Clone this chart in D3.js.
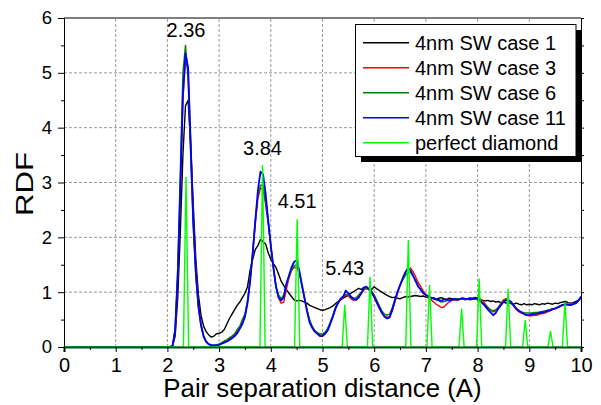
<!DOCTYPE html>
<html><head><meta charset="utf-8">
<script src="https://cdn.jsdelivr.net/npm/d3@7"></script>
<style>
html,body{margin:0;padding:0;background:#fff;}
svg{display:block;font-family:"Liberation Sans",Arial,sans-serif;}
</style></head>
<body><svg id="c" width="601" height="405"></svg>
<script>
// ---- data ----
const rStart = 2.0, rStep = 0.05; // bin positions 2.00 .. 10.00
const case1 = [
0,0,0.02,0.2,0.9,2.1,3.5,4.4,4.5,3.7,2.6,1.6,0.95,0.58,0.38,0.28,0.22,0.18,0.2,0.24,
0.25,0.27,0.32,0.42,0.52,0.6,0.68,0.76,0.82,0.9,0.98,1.1,1.4,1.6,1.78,1.85,1.96,1.92,1.88,1.72,
1.6,1.52,1.45,1.33,1.2,1.12,1.05,0.98,0.92,0.86,0.84,0.85,0.84,0.82,0.8,0.76,0.74,0.72,0.7,0.68,
0.67,0.68,0.7,0.72,0.75,0.79,0.83,0.86,0.89,0.92,0.95,0.98,1.01,1.04,1.07,1.05,1.09,1.06,1.07,1.05,
1.1,1.06,1.03,1.0,0.97,0.94,0.92,0.9,0.91,0.89,0.88,0.9,0.92,0.91,0.92,0.93,0.94,0.93,0.92,0.93,
0.91,0.9,0.88,0.9,0.87,0.89,0.9,0.88,0.87,0.89,0.88,0.86,0.88,0.87,0.89,0.87,0.88,0.86,0.87,0.88,
0.86,0.87,0.85,0.84,0.85,0.83,0.84,0.82,0.83,0.81,0.82,0.8,0.81,0.79,0.78,0.8,0.78,0.77,0.79,0.77,
0.78,0.77,0.79,0.78,0.77,0.79,0.78,0.8,0.79,0.78,0.8,0.79,0.81,0.82,0.83,0.81,0.8,0.81,0.83,0.85,
0.89];
const case3 = [
0,0,0.02,0.28,1.25,2.8,4.5,5.25,5.05,3.75,2.35,1.4,0.78,0.42,0.21,0.1,0.05,0.03,0.03,0.03,
0.05,0.07,0.1,0.12,0.15,0.18,0.22,0.28,0.35,0.45,0.57,0.82,1.2,1.7,2.25,2.7,2.9,2.88,2.6,2.25,
1.85,1.45,1.1,0.9,0.8,0.82,1.05,1.25,1.4,1.45,1.45,1.35,1.12,0.9,0.68,0.48,0.37,0.3,0.25,0.22,
0.22,0.25,0.32,0.44,0.56,0.7,0.8,0.86,0.9,0.95,0.93,0.88,0.85,0.86,0.92,0.98,1.04,1.08,1.04,0.98,
0.9,0.8,0.7,0.62,0.57,0.54,0.56,0.66,0.82,0.98,1.12,1.24,1.35,1.42,1.44,1.38,1.28,1.18,1.1,1.02,
0.95,0.9,0.86,0.82,0.78,0.75,0.72,0.73,0.78,0.82,0.85,0.86,0.85,0.87,0.88,0.86,0.87,0.88,0.89,0.9,
0.9,0.88,0.84,0.78,0.72,0.67,0.64,0.66,0.72,0.8,0.86,0.88,0.86,0.8,0.74,0.68,0.64,0.62,0.6,0.58,
0.57,0.57,0.58,0.58,0.6,0.61,0.62,0.64,0.66,0.68,0.7,0.72,0.74,0.76,0.77,0.78,0.77,0.78,0.8,0.84,
0.9];
const case6 = [
0,0,0.03,0.35,1.45,3.2,5.0,5.5,4.9,3.5,2.2,1.3,0.7,0.38,0.18,0.09,0.05,0.04,0.03,0.04,
0.05,0.08,0.11,0.13,0.17,0.2,0.24,0.32,0.38,0.5,0.6,0.85,1.25,1.75,2.3,2.75,2.95,2.95,2.65,2.3,
1.85,1.45,1.12,0.95,0.88,0.95,1.15,1.28,1.4,1.48,1.5,1.38,1.12,0.9,0.68,0.5,0.38,0.3,0.26,0.24,
0.24,0.27,0.34,0.45,0.58,0.72,0.82,0.88,0.92,0.96,0.95,0.9,0.88,0.9,0.95,1.0,1.05,1.08,1.06,1.02,
0.95,0.85,0.75,0.66,0.6,0.58,0.6,0.72,0.86,1.0,1.12,1.22,1.3,1.36,1.36,1.3,1.22,1.12,1.04,0.98,
0.95,0.93,0.9,0.88,0.86,0.84,0.82,0.83,0.84,0.86,0.86,0.88,0.87,0.88,0.88,0.87,0.88,0.89,0.88,0.88,
0.87,0.85,0.8,0.76,0.72,0.68,0.66,0.68,0.72,0.78,0.84,0.86,0.85,0.8,0.75,0.7,0.66,0.64,0.62,0.62,
0.62,0.62,0.63,0.63,0.64,0.65,0.66,0.67,0.68,0.7,0.71,0.73,0.75,0.77,0.78,0.77,0.76,0.78,0.8,0.84,
0.9];
const case11 = [
0,0,0.02,0.3,1.3,2.9,4.6,5.35,5.1,3.7,2.3,1.35,0.75,0.4,0.2,0.1,0.05,0.03,0.03,0.03,
0.04,0.06,0.08,0.1,0.13,0.16,0.2,0.25,0.33,0.42,0.55,0.8,1.2,1.7,2.3,2.85,3.2,3.15,2.8,2.3,
1.85,1.45,1.1,0.9,0.85,0.9,1.15,1.3,1.45,1.55,1.58,1.4,1.15,0.9,0.65,0.45,0.35,0.28,0.24,0.2,
0.2,0.24,0.3,0.42,0.55,0.7,0.8,0.88,0.92,1.03,0.98,0.92,0.88,0.86,0.9,0.98,1.08,1.1,1.05,1.0,
0.92,0.82,0.72,0.62,0.55,0.52,0.54,0.68,0.85,1.0,1.13,1.25,1.36,1.43,1.4,1.3,1.2,1.1,1.05,0.98,
0.95,0.92,0.9,0.88,0.87,0.86,0.84,0.87,0.86,0.85,0.86,0.88,0.86,0.87,0.89,0.88,0.87,0.89,0.88,0.9,
0.88,0.84,0.79,0.74,0.68,0.63,0.58,0.62,0.7,0.76,0.82,0.85,0.86,0.82,0.76,0.7,0.66,0.63,0.6,0.58,
0.58,0.6,0.6,0.61,0.62,0.63,0.64,0.66,0.67,0.69,0.7,0.72,0.75,0.77,0.78,0.77,0.77,0.78,0.8,0.85,
0.92];
const diamondPos = [2.36,3.84,4.51,5.43,5.92,6.66,7.07,7.69,8.03,8.59,8.92,9.41,9.69];
const diamondHeight = [3.1,3.32,2.33,0.77,1.28,1.95,1.13,0.70,1.25,1.06,0.49,0.29,0.81];
const diamondHalfWidth = 0.05;
const seriesNames = ["4nm SW case 1","4nm SW case 3","4nm SW case 6","4nm SW case 11","perfect diamond"];
const seriesColors = ["#000000","#ff0000","#008000","#0000ff","#00ff00"];
const xTicks = [0,1,2,3,4,5,6,7,8,9,10];
const yTicks = [0,1,2,3,4,5,6];
const peakLabels = [{t:"2.36",r:2.36,g:5.66},{t:"3.84",r:3.84,g:3.5},{t:"4.51",r:4.51,g:2.54},{t:"5.43",r:5.43,g:1.31}];

// ---- build ----
const svg = d3.select("#c");
const x = d3.scaleLinear().domain([0,10]).range([64,581]);
const y = d3.scaleLinear().domain([0,6]).range([347,18]);

function toPts(arr){
  const pts=[[0,0]];
  arr.forEach((v,i)=>pts.push([rStart+i*rStep, v]));
  return pts;
}
const diamondPts=[[0,0]];
diamondPos.forEach((p,i)=>{diamondPts.push([p-diamondHalfWidth,0],[p,diamondHeight[i]],[p+diamondHalfWidth,0]);});
diamondPts.push([10,0]);

// grid
const grid = svg.append("g");
[1,2,3,4,5,6,7,8,9].forEach(v=>grid.append("line").attr("x1",x(v)).attr("x2",x(v)).attr("y1",y(0)).attr("y2",y(6))
  .attr("stroke","#9a9a9a").attr("stroke-dasharray","3,2").attr("stroke-width",1));
[1,2,3,4,5].forEach(v=>grid.append("line").attr("y1",y(v)).attr("y2",y(v)).attr("x1",x(0)).attr("x2",x(10))
  .attr("stroke","#9a9a9a").attr("stroke-dasharray","3,2").attr("stroke-width",1));

// series
const line = d3.line().x(d=>x(d[0])).y(d=>y(d[1]));
const all = [case1,case3,case6,case11].map(toPts);
all.forEach((pts,i)=>{
  svg.append("path").attr("d",line(pts)).attr("fill","none").attr("stroke",seriesColors[i])
    .attr("stroke-width", i===3?1.8:1.4).attr("stroke-linejoin","round");
});
svg.append("path").attr("d",line(diamondPts)).attr("fill","none").attr("stroke",seriesColors[4]).attr("stroke-width",1.4);

// axes
function styleAxis(g){ g.selectAll("path,line").attr("stroke","#000"); g.selectAll("text").attr("fill","#000"); }
const xa = svg.append("g").attr("transform","translate(0,347)")
  .call(d3.axisBottom(x).tickValues(xTicks).tickSize(5).tickPadding(6).tickFormat(d3.format("d")));
xa.selectAll("text").attr("font-size",20).attr("font-family","Liberation Sans, Arial, sans-serif");
styleAxis(xa);
xa.select(".domain").attr("stroke","#0d4a22").attr("stroke-width",2.2);
svg.append("g").attr("transform","translate(0,347)")
  .call(d3.axisBottom(x).tickValues(d3.range(0.5,10,1)).tickSize(3).tickFormat("")).call(styleAxis)
  .select(".domain").remove();
const ya = svg.append("g").attr("transform","translate(64,0)")
  .call(d3.axisLeft(y).tickValues(yTicks).tickSize(6).tickPadding(6).tickFormat(d3.format("d")));
ya.selectAll("text").attr("font-size",18.5).attr("font-family","Liberation Sans, Arial, sans-serif");
styleAxis(ya);
svg.append("g").attr("transform","translate(64,0)")
  .call(d3.axisLeft(y).tickValues(d3.range(0.5,6,1)).tickSize(3).tickFormat("")).call(styleAxis)
  .select(".domain").remove();
// right & top borders
svg.append("g").attr("transform","translate(581,0)")
  .call(d3.axisRight(y).tickValues(d3.range(0,6.01,0.5)).tickSize(3).tickFormat("")).call(styleAxis);
svg.append("line").attr("x1",x(0)).attr("x2",x(10)).attr("y1",y(6)).attr("y2",y(6)).attr("stroke","#000");

// peak labels
peakLabels.forEach(p=>svg.append("text").attr("x",x(p.r)).attr("y",y(p.g)).attr("text-anchor","middle")
  .attr("font-size",20).attr("fill","#000").text(p.t));

// legend
const lg = svg.append("g");
lg.append("rect").attr("x",361).attr("y",30).attr("width",221).attr("height",132).attr("fill","#000");
lg.append("rect").attr("x",355.5).attr("y",24.5).attr("width",220.5).attr("height",132).attr("fill","#fff").attr("stroke","#000").attr("stroke-width",1);
seriesNames.forEach((n,i)=>{
  const yy = 42.7 + i*25;
  lg.append("line").attr("x1",363).attr("x2",409).attr("y1",yy).attr("y2",yy).attr("stroke",seriesColors[i]).attr("stroke-width",1.4);
  lg.append("text").attr("x",415).attr("y",yy+6.8).attr("font-size",20).attr("fill","#000").text(n);
});

// axis titles
svg.append("text").attr("x",322.5).attr("y",397).attr("text-anchor","middle").attr("font-size",25.8).attr("fill","#000")
  .text("Pair separation distance (A)");
svg.append("text").attr("transform","translate(33,184) rotate(-90) scale(1.3,1)").attr("text-anchor","middle")
  .attr("font-size",24).attr("fill","#000").text("RDF");
</script></body></html>
